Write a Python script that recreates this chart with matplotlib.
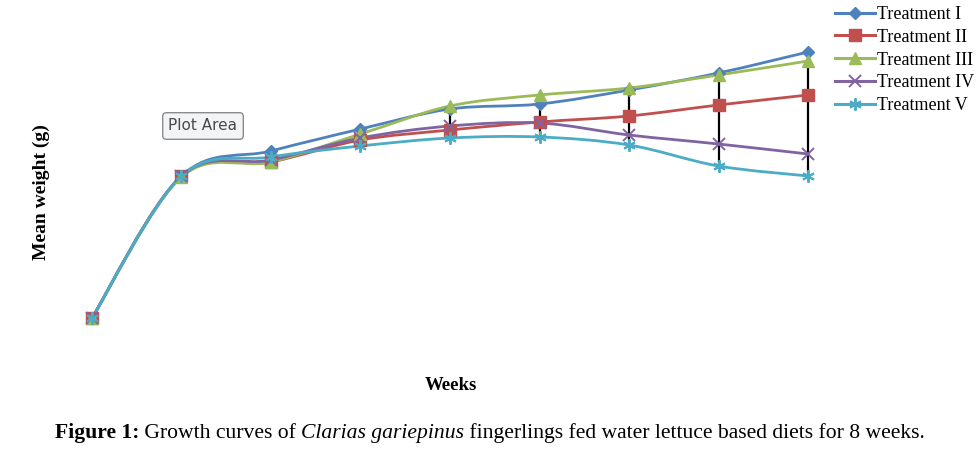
import matplotlib
matplotlib.use("Agg")
import matplotlib.pyplot as plt
from matplotlib.path import Path
from matplotlib.patches import PathPatch
import numpy as np

weeks = [0, 1, 2, 3, 4, 5, 6, 7, 8]
labels = ["Treatment I", "Treatment II", "Treatment III", "Treatment IV", "Treatment V"]
t1 = [1.7, 15.9, 18.4, 20.6, 22.6, 23.1, 24.5, 26.2, 28.3]
t2 = [1.7, 15.9, 17.3, 19.5, 20.5, 21.3, 21.9, 23.0, 24.0]
t3 = [1.7, 15.8, 17.3, 20.1, 22.9, 24.0, 24.7, 26.0, 27.4]
t4 = [1.7, 15.9, 17.5, 19.7, 20.9, 21.2, 20.0, 19.1, 18.1]
t5 = [1.7, 15.9, 17.8, 18.9, 19.7, 19.8, 19.0, 16.9, 15.9]
series = [t1, t2, t3, t4, t5]

colors = ["#4F81BD", "#C0504D", "#9BBB59", "#8064A2", "#4BACC6"]
markers = ["D", "s", "^", "x", (6, 2, 0)]
msizes = [6.5, 8, 8, 9, 9]

fig = plt.figure(figsize=(9.78, 4.58), dpi=100)
ax = fig.add_axes([60/978, (458-340)/458, 780/978, 330/458])
ax.set_xlim(-0.3575, 8.3575)
ax.set_ylim(-0.5, 32.5)
ax.axis("off")


def smooth_path(xs, ys):
    pts = np.column_stack([xs, ys]).astype(float)
    n = len(pts)
    verts = [pts[0]]
    codes = [Path.MOVETO]
    for i in range(n - 1):
        p0 = pts[i - 1] if i > 0 else pts[i]
        p1 = pts[i]
        p2 = pts[i + 1]
        p3 = pts[i + 2] if i + 2 < n else pts[i + 1]
        c1 = p1 + (p2 - p0) / 6.0
        c2 = p2 - (p3 - p1) / 6.0
        verts += [c1, c2, p2]
        codes += [Path.CURVE4] * 3
    return Path(verts, codes)


# high-low lines
arr = np.array(series)
ax.vlines(weeks, arr.min(axis=0), arr.max(axis=0), color="black", lw=1.6, zorder=1)

handles = []
for s, c, m, ms, lab in zip(series, colors, markers, msizes, labels):
    patch = PathPatch(smooth_path(weeks, s), facecolor="none", edgecolor=c, lw=2.0,
                      zorder=2, capstyle="round", joinstyle="round")
    ax.add_patch(patch)
    mew = 1.4 if m in ("x",) or isinstance(m, tuple) else 1.0
    ax.plot(weeks, s, linestyle="none", marker=m, markersize=ms, color=c,
            markeredgecolor=c, markeredgewidth=mew, zorder=3)
    h, = ax.plot([], [], color=c, lw=2.2, marker=m, markersize=ms,
                 markeredgecolor=c, markeredgewidth=mew, label=lab)
    handles.append(h)

fig.legend(handles=handles, loc="upper left", bbox_to_anchor=(835/978, 1 - 6/458),
           frameon=False, prop={"family": "Liberation Serif", "size": 13},
           handlelength=2.2, handletextpad=0.1, labelspacing=0.32, numpoints=1,
           borderaxespad=0, borderpad=0)

# Plot Area tooltip
fig.text(203/978, 1 - 126/458, "Plot Area", ha="center", va="center",
         fontsize=11, family="DejaVu Sans", color="#4a4a4a",
         bbox=dict(boxstyle="round,pad=0.38,rounding_size=0.25", facecolor="#f3f4f6",
                   edgecolor="#8c8c8c", lw=1.0))

fig.text(41/978, 1 - 192/458, "Mean weight (g)", rotation=90, ha="center", va="center",
         fontsize=14, fontweight="bold", family="Liberation Serif")
fig.text(451/978, 1 - 385/458, "Weeks", ha="center", va="center",
         fontsize=13.5, fontweight="bold", family="Liberation Serif")

# caption
cap_y = 1 - 443/458
fs = 15.6
p1 = fig.text(0.05, cap_y, "Figure 1:", fontsize=fs, fontweight="bold",
              family="Liberation Serif", ha="left", va="bottom")
p2 = fig.text(0, 0, " Growth curves of ", fontsize=fs, family="Liberation Serif",
              ha="left", va="bottom")
p3 = fig.text(0, 0, "Clarias gariepinus", fontsize=fs, style="italic",
              family="Liberation Serif", ha="left", va="bottom")
p4 = fig.text(0, 0, " fingerlings fed water lettuce based diets for 8 weeks.",
              fontsize=fs, family="Liberation Serif", ha="left", va="bottom")
fig.canvas.draw()
r = fig.canvas.get_renderer()
x = p1.get_window_extent(r).x1
for p in (p2, p3, p4):
    p.set_position((x / fig.bbox.width, cap_y))
    x = p.get_window_extent(r).x1
left = p1.get_window_extent(r).x0
total = x - left
shift = (490 - total / 2) - left
for p in (p1, p2, p3, p4):
    px, py = p.get_position()
    p.set_position((px + shift / fig.bbox.width, py))

fig.savefig("out.png", dpi=100)
